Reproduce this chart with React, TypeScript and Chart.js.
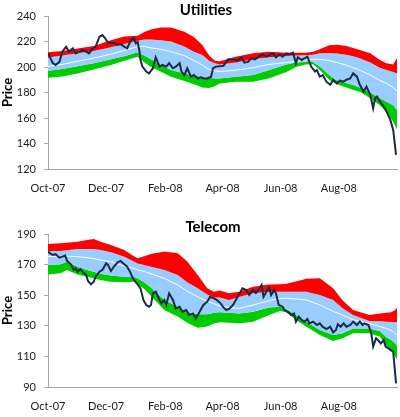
import React, { useEffect, useRef } from "react";
import { Chart, registerables } from "chart.js";

Chart.register(...registerables);

const tickDays = [0, 61, 123, 183, 244, 305];
const tickLabels = ["Oct-07", "Dec-07", "Feb-08", "Apr-08", "Jun-08", "Aug-08"];

// ---------- Utilities ----------
const utilBandDays = [0, 15, 31, 48, 66, 80, 94, 101, 108, 118, 129, 143, 153, 162, 169, 175, 180, 197, 215, 232, 250, 260, 270, 278, 285, 295, 303, 313, 320, 327, 338, 348, 355, 362, 366];
const utilUpper2 = [211.5, 212.5, 214.5, 216.5, 221, 224, 224.5, 227.5, 229.5, 231, 231, 227.7, 223.5, 217, 209, 205, 204.5, 208, 210.7, 212, 211.2, 211.2, 211.2, 212, 214, 217, 217.5, 216.5, 215, 213.3, 210.7, 205.5, 203, 202, 207];
const utilUpper1 = [207.5, 209, 210.7, 212.5, 215.5, 218, 220.5, 221.5, 221.5, 221, 220, 216, 212, 209.5, 205, 203, 202, 203.6, 206, 207.6, 208.6, 209, 209.2, 209.7, 210.7, 211, 210.5, 209.7, 208.5, 206.8, 203.5, 199.5, 197.6, 196, 195];
const utilMean = [200.5, 202, 204.5, 207, 210, 213, 216, 216, 215, 214, 212, 209, 205, 201.5, 198, 197, 196.5, 197.5, 199.5, 202, 203.5, 204.5, 205.5, 206, 206, 205, 203.5, 201.5, 199.5, 197.5, 193.7, 189.5, 187.2, 184, 181];
const utilLower1 = [197, 198.5, 200.5, 203, 206, 208.5, 211.5, 209, 206, 202, 197.6, 195, 193.5, 192, 191.5, 191, 191, 192.4, 193.7, 197.6, 202, 203.5, 204, 203.9, 200.3, 193.7, 189.5, 187.5, 185.9, 184, 180, 175.5, 172.8, 170, 166];
const utilLower2 = [191.5, 192.5, 195, 198, 201.5, 205, 208, 203.5, 200, 196.5, 192.4, 189, 186.5, 184, 183.5, 185, 187, 188.5, 188.5, 191.1, 196, 200, 202, 202.1, 197.6, 189.8, 186.5, 184, 182, 180.5, 175.5, 170, 165, 157, 151];
const utilPriceDays = [0, 1, 5, 8, 12, 15, 19, 22, 26, 29, 33, 36, 40, 43, 47, 50, 54, 57, 60, 62, 66, 69, 73, 76, 80, 83, 87, 90, 92, 94, 96, 97, 99, 103, 106, 110, 113, 117, 120, 124, 127, 131, 134, 138, 140, 143, 146, 150, 153, 157, 160, 164, 167, 171, 173, 176, 180, 184, 189, 194, 199, 203, 206, 210, 213, 217, 222, 225, 229, 232, 236, 239, 243, 246, 250, 253, 257, 260, 262, 266, 269, 272, 274, 276, 280, 282, 285, 288, 292, 296, 299, 303, 306, 310, 313, 317, 320, 324, 327, 331, 334, 338, 341, 343, 345, 348, 352, 355, 359, 362, 365];
const utilPrice = [210.5, 209.4, 203, 201.6, 204, 212, 215.9, 212, 214.6, 210.7, 212, 213.3, 212, 210.7, 214.6, 216, 223.8, 225, 222.5, 220, 218.6, 219, 217.3, 218, 216, 214.6, 221.2, 222.5, 218.6, 219.5, 212, 205.5, 200.3, 196.4, 195, 199, 207.6, 200.3, 201.6, 200.3, 203, 199, 200.3, 203, 196.4, 193.7, 199, 192.4, 193.7, 191, 192, 191, 191, 192.4, 199, 200.3, 200.5, 201, 206, 206, 205, 207.6, 203.4, 204.2, 206.8, 206, 208.6, 210, 208.1, 209.4, 210.7, 207.6, 210, 208.1, 210.7, 210, 211.2, 203, 207.6, 205.5, 206.8, 208.1, 204.2, 200.3, 196.4, 197.6, 192.4, 193.7, 188.5, 186, 189.8, 187.2, 189.4, 188.5, 190, 191, 195, 192.4, 186, 180.7, 184.6, 178, 167.6, 175.5, 176.8, 173, 169, 165, 158.5, 150.6, 131];

// ---------- Telecom ----------
const telBandDays = [0, 13, 20, 31, 41, 48, 55, 66, 80, 90, 94, 101, 108, 122, 136, 146, 157, 167, 174, 180, 190, 201, 215, 232, 243, 250, 260, 271, 285, 299, 309, 320, 337, 348, 355, 360, 364, 366];
const telUpper2 = [183.5, 183.9, 184.2, 185, 186, 186.7, 185, 182.8, 179.5, 175.5, 174.1, 175.5, 177, 178.5, 177.4, 172, 163.2, 154.5, 152.3, 153, 151.2, 152.3, 155.5, 157, 157.1, 157.5, 159, 160.8, 161, 154.5, 146.5, 140.3, 137, 138.1, 138.5, 138.8, 140.3, 142];
const telUpper1 = [178.9, 178.9, 179.3, 180.2, 180.2, 180.2, 179.5, 178, 175.2, 172, 170.8, 169.7, 168.6, 166.5, 163.2, 158.5, 154.5, 150.5, 148.5, 148.5, 146.9, 149, 151.2, 152.3, 152.3, 152.3, 152.3, 152.3, 150.1, 146.9, 141.5, 137, 133.1, 133, 132.7, 132.5, 132.3, 132.3];
const telMean = [175.2, 175.5, 175.5, 175.2, 174.5, 174, 173, 171.9, 169, 167.5, 166.5, 165.5, 164, 161, 156.7, 152.5, 149, 146, 144.5, 143, 141.8, 141.4, 143.6, 146.5, 147.8, 148, 147.5, 146.9, 143.6, 139.5, 137, 134, 131.6, 129.5, 128.3, 127, 125, 124];
const telLower1 = [169.7, 170.2, 171.9, 168.6, 166.5, 165.4, 164, 162.8, 162.1, 162, 161, 158.5, 155, 146.9, 142.5, 139, 137.5, 137.5, 138.5, 138.8, 138.5, 138.1, 139.2, 141.9, 142.5, 141, 137, 132.7, 127.3, 124, 125.1, 128.3, 128.3, 126.6, 122.5, 120.7, 118.5, 117];
const telLower2 = [163.6, 164.3, 166.5, 163.6, 162, 161, 160, 158.8, 158.4, 158.8, 157, 154, 149.5, 140.3, 136, 132, 128.8, 129.5, 131.5, 132.3, 132, 131.6, 132.7, 137, 139.7, 138.8, 133.8, 129.4, 124, 120.1, 121.8, 125.1, 125.1, 122.9, 117, 114.2, 110, 108];
const telPriceDays = [0, 1, 5, 8, 12, 15, 18, 20, 24, 27, 29, 31, 34, 36, 40, 42, 45, 48, 50, 54, 57, 61, 63, 66, 69, 73, 76, 80, 83, 86, 89, 91, 94, 97, 100, 103, 106, 108, 110, 113, 117, 119, 122, 124, 127, 131, 134, 138, 141, 145, 148, 152, 155, 158, 161, 163, 167, 170, 174, 177, 181, 184, 187, 190, 194, 197, 201, 204, 208, 211, 215, 218, 222, 224, 226, 229, 232, 234, 237, 239, 242, 246, 248, 252, 255, 258, 260, 263, 266, 269, 272, 274, 278, 282, 285, 288, 292, 296, 299, 302, 304, 307, 310, 313, 317, 320, 324, 327, 330, 332, 336, 339, 341, 344, 346, 349, 352, 354, 357, 359, 362, 365];
const telPrice = [178.5, 178, 176.3, 176.8, 174.5, 175.2, 175.9, 172.4, 170.2, 166.5, 167.6, 165.4, 167.1, 165.4, 163.2, 159.3, 157.1, 158.8, 162.1, 165.4, 166.5, 170.8, 169.7, 165.8, 168.6, 171.5, 172.4, 170.2, 168.6, 165.4, 161, 159.3, 157.1, 154.5, 146.9, 143.6, 142.5, 143.6, 151.2, 152.3, 146.9, 144.7, 146.9, 143.6, 151.2, 146.9, 141.4, 142.5, 139.2, 140.3, 137, 138.1, 134.9, 138.1, 141.4, 143.6, 145.8, 149, 147.9, 146.9, 144.7, 142, 140.3, 141, 143.6, 146.9, 151.2, 154.5, 153.4, 150.1, 153.4, 151.5, 154.5, 156.7, 149, 152.3, 155, 150.1, 153.4, 151.2, 143.6, 142.5, 140.3, 138.8, 137, 138, 132.7, 136, 133.8, 132.7, 134.5, 131.6, 132.7, 130.5, 131.6, 129.4, 127.9, 129.4, 125.7, 127.3, 131, 129.4, 131.6, 129.4, 130.5, 132.7, 130.5, 132.7, 130.5, 131.6, 130.5, 125.1, 116.4, 121.8, 120.7, 118.5, 120.7, 116.4, 115.3, 114.2, 113.1, 92.4];

const FONT = "Lato, 'DejaVu Sans', sans-serif";
const RED = "#FF0000";
const BLUE = "#99CCFF";
const GREEN = "#00CC00";
const PRICE = "#1C2A48";
const AXIS = "#A6A6A6";
const NONE = "rgba(0,0,0,0)";

const pts = (xs: number[], ys: number[]) => xs.map((x, i) => ({ x, y: ys[i] }));

const titlePlugin = {
  id: "fixedTitle",
  afterDraw(chart: any, _args: any, opts: any) {
    const ctx = chart.ctx;
    ctx.save();
    ctx.font = `bold 15px ${FONT}`;
    ctx.fillStyle = "#000";
    ctx.textAlign = "center";
    ctx.textBaseline = "middle";
    ctx.fillText(opts.text, opts.x, opts.y);
    ctx.restore();
  },
};

type PanelProps = {
  title: string;
  titleX: number;
  titleY: number;
  yMin: number;
  yMax: number;
  padTop: number;
  xAxisHeight: number;
  bandDays: number[];
  upper2: number[];
  upper1: number[];
  mean: number[];
  lower1: number[];
  lower2: number[];
  priceDays: number[];
  price: number[];
};

function Panel(p: PanelProps) {
  const ref = useRef<HTMLCanvasElement | null>(null);
  useEffect(() => {
    if (!ref.current) return;
    const band = (ys: number[], color: string, target: number | false) => ({
      data: pts(p.bandDays, ys),
      borderColor: NONE,
      borderWidth: 0,
      backgroundColor: color,
      pointRadius: 0,
      fill: target === false ? false : { target },
    });
    const chart = new Chart(ref.current, {
      type: "line",
      data: {
        datasets: [
          {
            data: pts(p.priceDays, p.price),
            borderColor: PRICE,
            borderWidth: 2,
            pointRadius: 0,
            fill: false,
          },
          {
            data: pts(p.bandDays, p.mean),
            borderColor: "#FFFFFF",
            borderWidth: 1,
            pointRadius: 0,
            fill: false,
          },
          band(p.upper2, RED, 3),
          band(p.upper1, BLUE, 4),
          band(p.lower1, GREEN, 5),
          band(p.lower2, NONE, false),
        ] as any,
      },
      options: {
        animation: false,
        responsive: true,
        maintainAspectRatio: false,
        layout: { padding: { top: p.padTop, right: 3, left: 0, bottom: 0 } },
        plugins: {
          legend: { display: false },
          tooltip: { enabled: false },
          fixedTitle: { text: p.title, x: p.titleX, y: p.titleY },
        } as any,
        scales: {
          x: {
            type: "linear",
            min: 0,
            max: 366,
            afterBuildTicks: (s: any) => {
              s.ticks = tickDays.map((v) => ({ value: v }));
            },
            afterFit: (s: any) => {
              s.height = p.xAxisHeight;
            },
            ticks: {
              autoSkip: false,
              maxRotation: 0,
              padding: 13,
              color: "#1a1a1a",
              font: { family: FONT, size: 11 },
              callback: (v: any) => tickLabels[tickDays.indexOf(Number(v))] ?? "",
            },
            grid: { display: true, drawOnChartArea: false, drawTicks: false },
            border: { display: true, color: AXIS, width: 1 },
          },
          y: {
            min: p.yMin,
            max: p.yMax,
            afterFit: (s: any) => {
              s.width = 48;
            },
            ticks: {
              stepSize: 20,
              padding: 8,
              color: "#1a1a1a",
              font: { family: FONT, size: 11 },
            },
            grid: { display: true, drawOnChartArea: false, drawTicks: true, tickLength: 4, color: AXIS },
            border: { display: true, color: AXIS, width: 1 },
            title: {
              display: true,
              text: "Price",
              color: "#000",
              padding: 0,
              font: { family: FONT, size: 13, weight: "bold" },
            },
          },
        },
      } as any,
      plugins: [titlePlugin as any],
    });
    return () => chart.destroy();
  }, []);
  return <canvas ref={ref} />;
}

export default function App() {
  return (
    <div style={{ position: "absolute", left: 0, top: 0, width: 400, height: 417, background: "#fff" }}>
      <div style={{ position: "absolute", left: 0, top: 0, width: 400, height: 209 }}>
        <Panel
          title="Utilities"
          titleX={206}
          titleY={10.5}
          yMin={120}
          yMax={240}
          padTop={16}
          xAxisHeight={40}
          bandDays={utilBandDays}
          upper2={utilUpper2}
          upper1={utilUpper1}
          mean={utilMean}
          lower1={utilLower1}
          lower2={utilLower2}
          priceDays={utilPriceDays}
          price={utilPrice}
        />
      </div>
      <div style={{ position: "absolute", left: 0, top: 209, width: 400, height: 208 }}>
        <Panel
          title="Telecom"
          titleX={213}
          titleY={18.5}
          yMin={90}
          yMax={190}
          padTop={25}
          xAxisHeight={30}
          bandDays={telBandDays}
          upper2={telUpper2}
          upper1={telUpper1}
          mean={telMean}
          lower1={telLower1}
          lower2={telLower2}
          priceDays={telPriceDays}
          price={telPrice}
        />
      </div>
    </div>
  );
}
